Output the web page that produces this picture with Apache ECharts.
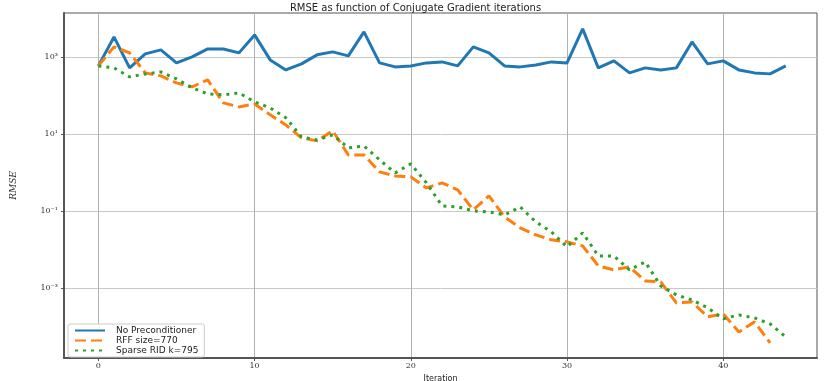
<!DOCTYPE html>
<html>
<head>
<meta charset="utf-8">
<script src="https://cdn.jsdelivr.net/npm/echarts@6/dist/echarts.min.js"></script>
<style>
  html, body { margin: 0; padding: 0; background: #fff; }
  #chart { width: 831px; height: 381px; }
</style>
</head>
<body>
<div id="chart"></div>
<script>
// RMSE per Conjugate Gradient iteration
const iterations = Array.from({ length: 45 }, (_, i) => i);

const noPrecond = [
  583, 3300, 518, 1200, 1520, 700, 1000, 1610, 1610, 1270,
  3720, 835, 459, 658, 1130, 1350, 1060, 4460, 698, 550,
  583, 698, 741, 583, 1820, 1270, 583, 550, 619, 741,
  698, 5340, 518, 787, 384, 518, 459, 518, 2450, 658,
  787, 459, 384, 362, 583
];

const rffSize770 = [
  583, 1820, 1270, 384, 321, 211, 166, 253, 63.8, 50.2,
  60.1, 31.2, 17.1, 7.87, 6.58, 12.0, 2.85, 2.85, 1.03, 0.811,
  0.764, 0.395, 0.533, 0.351, 0.106, 0.245, 0.0698, 0.0361, 0.0238, 0.0177,
  0.0157, 0.0123, 0.00372, 0.00294, 0.00351, 0.00152, 0.00143, 4.07e-4, 4.33e-4, 1.77e-4,
  2.11e-4, 7.19e-5, 1.31e-4, 3.72e-5
];

const sparseRid795 = [
  583, 518, 303, 361, 407, 269, 157, 109, 103, 116,
  67.8, 47.3, 26.1, 8.36, 6.98, 9.42, 4.33, 4.88, 2.11, 0.970,
  1.66, 0.533, 0.135, 0.127, 0.100, 0.0942, 0.0787, 0.127, 0.0518, 0.0285,
  0.0116, 0.0269, 0.00678, 0.00678, 0.00294, 0.00473, 0.00113, 6.58e-4, 4.88e-4, 3.03e-4,
  1.57e-4, 1.99e-4, 1.66e-4, 1.16e-4, 5.33e-5
];

const xTicks = [0, 10, 20, 30, 40];
const yTicks = [1e-3, 1e-1, 1e1, 1e3];
const yTickLabels = { '-3': '10\u207B\u00B3', '-1': '10\u207B\u00B9', '1': '10\u00B9', '3': '10\u00B3' };

const pairs = (vals) => vals.map((v, i) => [iterations[i], v]);

const chart = echarts.init(document.getElementById('chart'));

chart.setOption({
  animation: false,
  title: {
    text: 'RMSE as function of Conjugate Gradient iterations',
    left: 'center',
    top: -2,
    textStyle: { fontFamily: 'DejaVu Sans', fontSize: 10, fontWeight: 'normal', color: '#222' }
  },
  grid: {
    left: 64, right: 14, top: 13, bottom: 23,
    outerBoundsMode: 'none',
    show: true, borderColor: '#555', borderWidth: 1
  },
  legend: {
    left: 68, top: 324,
    orient: 'vertical',
    itemWidth: 30, itemHeight: 8, itemGap: 1,
    padding: [2, 6, 2, 6],
    backgroundColor: '#fff',
    borderColor: '#ccc', borderWidth: 1, borderRadius: 2,
    itemStyle: { opacity: 0 },
    lineStyle: { width: 2 },
    textStyle: { fontFamily: 'DejaVu Sans', fontSize: 9, color: '#222', padding: [0, 0, 0, 6] },
    data: ['No Preconditioner', 'RFF size=770', 'Sparse RID k=795']
  },
  xAxis: {
    type: 'value',
    min: -2.2, max: 46,
    name: 'Iteration',
    nameLocation: 'middle',
    nameGap: 10,
    nameTextStyle: { fontFamily: 'DejaVu Sans', fontSize: 8, color: '#222' },
    axisLine: { onZero: false, lineStyle: { color: '#555', width: 2 } },
    axisTick: { customValues: xTicks, length: 3, lineStyle: { color: '#555' } },
    axisLabel: {
      customValues: xTicks, margin: 4,
      fontFamily: 'DejaVu Serif', fontSize: 8, color: '#333'
    },
    splitLine: { show: true, lineStyle: { color: '#b0b0b0', width: 1 } }
  },
  yAxis: {
    type: 'log',
    logBase: 10,
    min: 1.51e-5, max: 1.38e4,
    name: 'RMSE',
    nameLocation: 'middle',
    nameGap: 46,
    nameRotate: 90,
    nameTextStyle: { fontFamily: 'DejaVu Serif', fontStyle: 'italic', fontSize: 9, color: '#333' },
    axisLine: { onZero: false, lineStyle: { color: '#555', width: 2 } },
    axisTick: { customValues: yTicks, length: 3, lineStyle: { color: '#555' } },
    axisLabel: {
      customValues: yTicks, margin: 6,
      fontFamily: 'DejaVu Serif', fontSize: 8, color: '#333',
      formatter: (v) => yTickLabels[String(Math.round(Math.log10(v)))] || ''
    },
    splitLine: { show: true, lineStyle: { color: '#c8c8c8', width: 1 } }
  },
  series: [
    {
      name: 'No Preconditioner',
      type: 'line',
      data: pairs(noPrecond),
      showSymbol: false,
      symbol: 'none',
      color: '#1f77b4',
      lineStyle: { width: 3, color: '#1f77b4' }
    },
    {
      name: 'RFF size=770',
      type: 'line',
      data: pairs(rffSize770),
      showSymbol: false,
      symbol: 'none',
      color: '#ff7f0e',
      lineStyle: { width: 3, color: '#ff7f0e', type: [11, 5] }
    },
    {
      name: 'Sparse RID k=795',
      type: 'line',
      data: pairs(sparseRid795),
      showSymbol: false,
      symbol: 'none',
      color: '#2ca02c',
      lineStyle: { width: 3, color: '#2ca02c', type: [3, 5] }
    }
  ]
});
</script>
</body>
</html>
